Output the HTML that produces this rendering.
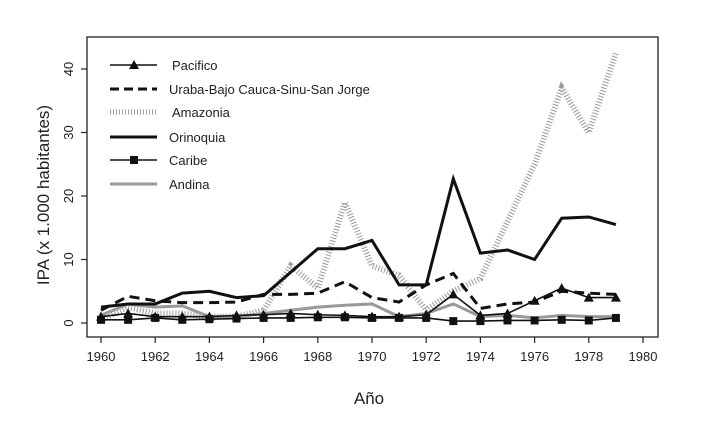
<!DOCTYPE html>
<html><head><meta charset="utf-8"><style>
body{margin:0;background:#fff}
svg{display:block;font-family:"Liberation Sans",Arial,sans-serif}
</style></head><body>
<svg id="chart" width="703" height="429" viewBox="0 0 703 429">
<rect x="87" y="37" width="571" height="300" fill="none" stroke="#222" stroke-width="1.3"/>
<g id="axes"></g>
<g id="series"></g>
<g id="legend"></g>
<text x="369" y="404" text-anchor="middle" font-size="17" fill="#222">Año</text>
<text transform="translate(49,195) rotate(-90)" text-anchor="middle" font-size="17" fill="#222">IPA (x 1.000 habitantes)</text>
</svg>
<script>
const years = [1960,1961,1962,1963,1964,1965,1966,1967,1968,1969,1970,1971,1972,1973,1974,1975,1976,1977,1978,1979];
const pacifico = [1,1.5,1,1,1,1.2,1.3,1.5,1.3,1.2,1,1,1.3,4.5,1.2,1.5,3.5,5.5,4,4];
const uraba = [2,4.2,3.5,3.2,3.2,3.3,4.5,4.5,4.7,6.5,4,3.3,6,7.8,2.3,3,3.3,5,4.7,4.5];
const amazonia = [0.5,2.5,1.5,1.5,1,1,2,9,5.5,19,9,7.5,2,5,7,16,25,37,30,42.5];
const orinoquia = [2.5,3,3,4.7,5,4,4.3,8,11.7,11.7,13,6,6,22.7,11,11.5,10,16.5,16.7,15.5];
const caribe = [0.5,0.5,0.8,0.5,0.6,0.7,0.8,0.8,0.9,0.9,0.8,0.8,0.8,0.3,0.3,0.4,0.4,0.5,0.4,0.8];
const andina = [1.2,3,2.5,2.7,1,1,1.5,2,2.5,2.8,3,1,1.5,3,1,1.2,0.8,1.2,1,1];
const xTicks = [1960,1962,1964,1966,1968,1970,1972,1974,1976,1978,1980];
const yTicks = [0,10,20,30,40];
const legendLabels = ["Pacifico","Uraba-Bajo Cauca-Sinu-San Jorge","Amazonia","Orinoquia","Caribe","Andina"];

const NS="http://www.w3.org/2000/svg";
const xs = v => 101 + (v-1960)*(643-101)/20;
const ys = v => 323 - v*(323-69)/40;
function mk(tag, attrs, parent){const e=document.createElementNS(NS,tag);for(const k in attrs)e.setAttribute(k,attrs[k]);parent.appendChild(e);return e;}
const axes=document.getElementById('axes'), ser=document.getElementById('series'), leg=document.getElementById('legend');
xTicks.forEach(t=>{
  const l=mk('line',{x1:xs(t),x2:xs(t),y1:337,y2:343,stroke:'#222','stroke-width':1.2},axes);
  
  
  const tx=mk('text',{x:xs(t),y:361,'text-anchor':'middle','font-size':13,fill:'#222'},axes);
  tx.textContent=t;
  
  
});
yTicks.forEach(t=>{
  const l=mk('line',{x1:81,x2:87,y1:ys(t),y2:ys(t),stroke:'#222','stroke-width':1.2},axes);
  
  
  const tx=mk('text',{transform:`translate(73,${ys(t)}) rotate(-90)`,'text-anchor':'middle','font-size':13,fill:'#222'},axes);
  tx.textContent=t;
  
  
});
const styles=[
 {d:pacifico,stroke:'#111',w:1.6,dash:'',marker:'tri',name:'pacifico'},
 {d:uraba,stroke:'#111',w:3,dash:'10,6',marker:'',name:'uraba'},
 {d:amazonia,stroke:'#999',w:6,dash:'1,2',marker:'',name:'amazonia'},
 {d:orinoquia,stroke:'#111',w:3,dash:'',marker:'',name:'orinoquia'},
 {d:caribe,stroke:'#111',w:1.6,dash:'',marker:'sq',name:'caribe'},
 {d:andina,stroke:'#999',w:3,dash:'',marker:'',name:'andina'}
];
function marker(type,x,y,g){
  if(type==='tri') return mk('path',{d:`M${x},${y-5}L${x+5},${y+4}L${x-5},${y+4}Z`,fill:'#111'},g);
  if(type==='sq') return mk('rect',{x:x-4,y:y-4,width:8,height:8,fill:'#111'},g);
}
[2,5,1,3,0,4].forEach(i=>{
  const s=styles[i];
  const g=mk('g',{},ser);
  
  
  const pts=s.d.map((v,j)=>xs(years[j])+','+ys(v)).join(' ');
  const pl=mk('polyline',{points:pts,fill:'none',stroke:s.stroke,'stroke-width':s.w,'stroke-dasharray':s.dash,'stroke-linejoin':'miter'},g);
  
  
  if(s.marker) s.d.forEach((v,j)=>{
    const m=marker(s.marker,xs(years[j]),ys(v),g);
    
    
  });
});
const rowsY=[65,89,112,137,160,184];
styles.forEach((s,i)=>{
  const y=rowsY[i];
  const g=mk('g',{},leg);
  
  
  mk('line',{x1:110,x2:157,y1:y,y2:y,stroke:s.stroke,'stroke-width':s.name==='amazonia'?5:s.w,'stroke-dasharray':s.name==='amazonia'?'1,2':(s.dash?'9,5':'')},g);
  if(s.marker) marker(s.marker,134,y,g);
  const t=mk('text',{x:s.name==='pacifico'||s.name==='amazonia'?172:169,y:y+5,'font-size':13,fill:'#222'},g);
  t.textContent=legendLabels[i];
});
</script>
</body></html>
